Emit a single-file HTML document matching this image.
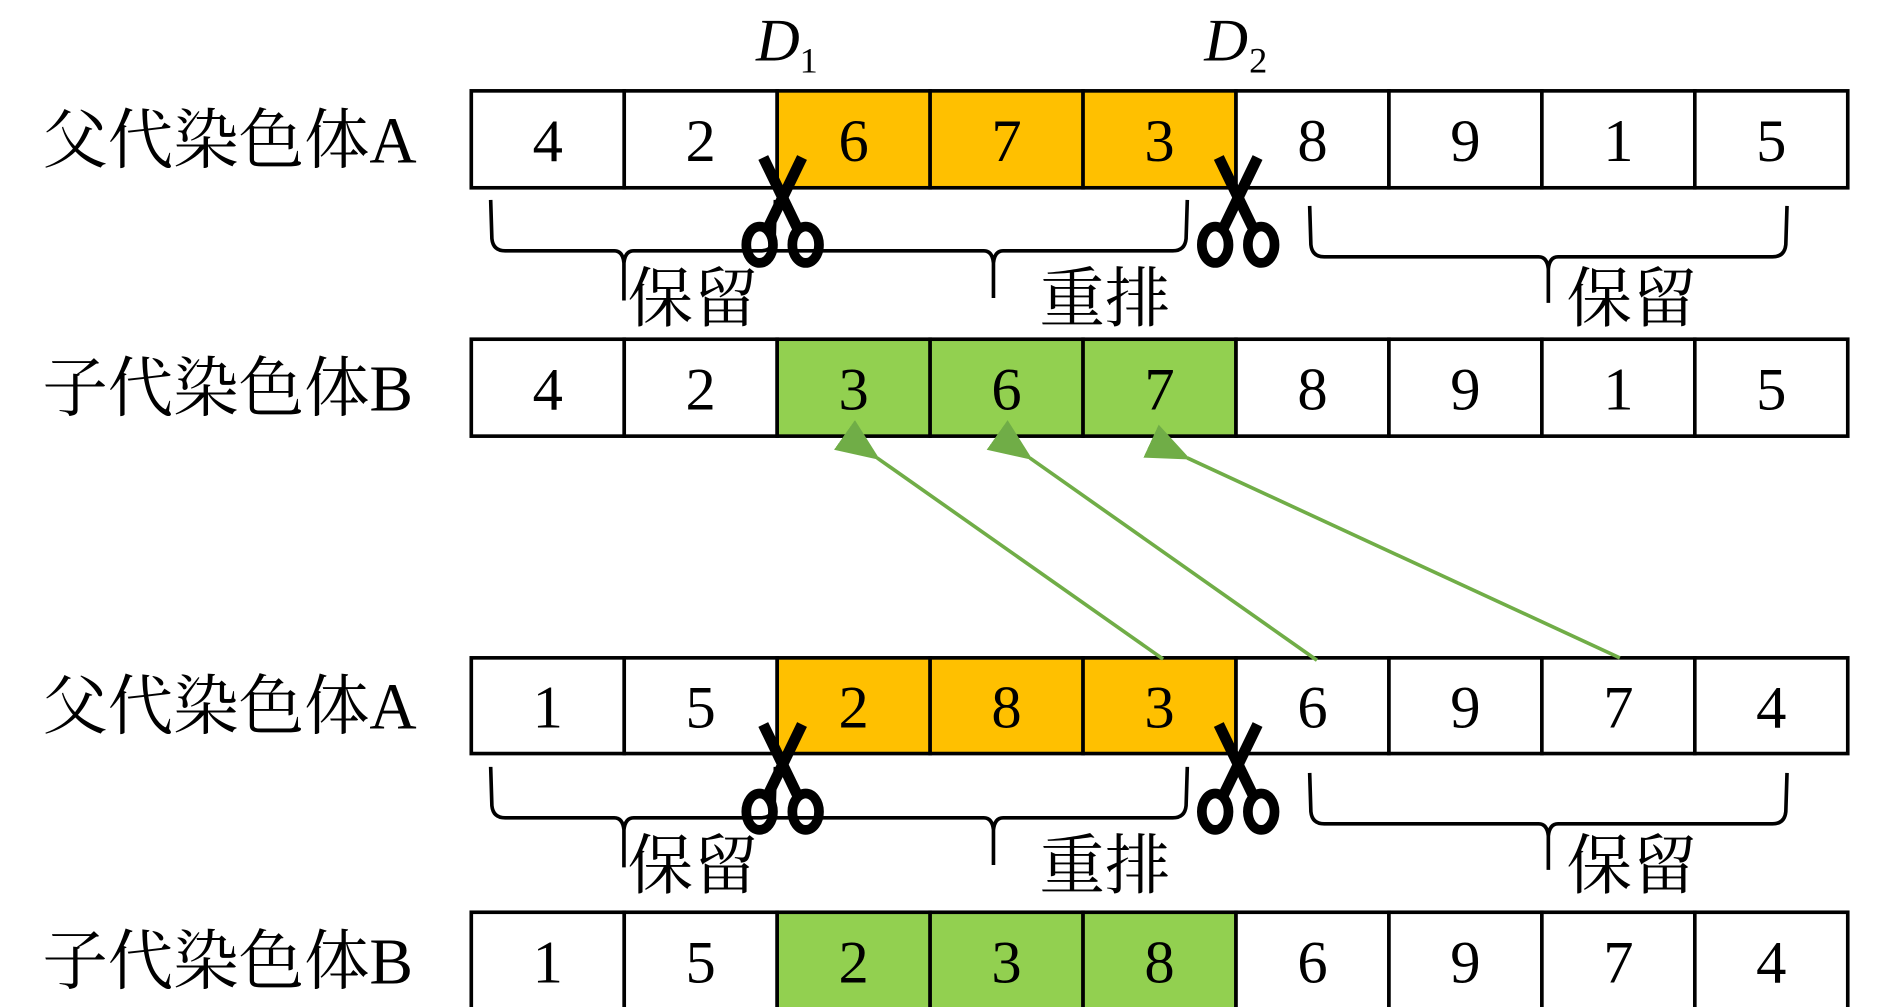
<!DOCTYPE html>
<html><head><meta charset="utf-8"><style>
html,body{margin:0;padding:0;background:#fff;overflow:hidden}
svg{display:block}
.lab{font-family:"Liberation Serif","Noto Serif CJK SC",serif;font-size:54px;fill:#000}
.num{font-family:"Liberation Serif",serif;font-size:50px;fill:#000;text-anchor:middle}
.br{fill:none;stroke:#000;stroke-width:3}
</style></head><body>
<svg width="1890" height="1007" viewBox="0 0 1560 831.2" preserveAspectRatio="none" xmlns="http://www.w3.org/2000/svg">
<defs>
<marker id="ah" markerWidth="12" markerHeight="10" refX="1" refY="5" orient="auto" markerUnits="strokeWidth">
<path d="M0,5 L12,0 L12,10 Z" fill="#70AD47"/>
</marker>
<g id="sc">
<line x1="-16" y1="-42" x2="13" y2="18" stroke="#000" stroke-width="9"/>
<line x1="16" y1="-42" x2="-13" y2="18" stroke="#000" stroke-width="9"/>
<ellipse cx="-19" cy="30" rx="11" ry="15" fill="none" stroke="#000" stroke-width="8"/>
<ellipse cx="19" cy="30" rx="11" ry="15" fill="none" stroke="#000" stroke-width="8"/>
</g>
</defs>
</svg>
<script>
var s=document.querySelector('svg'),NS='http://www.w3.org/2000/svg';
function el(t,a,txt){var e=document.createElementNS(NS,t);for(var k in a)e.setAttribute(k,a[k]);if(txt!==undefined)e.textContent=txt;s.appendChild(e);return e;}
var x0=389,w=126.9*1142/1148;
var rows=[
 {y:75,h:80,lab:'父代染色体A',v:[4,2,6,7,3,8,9,1,5],c:'#FFC000'},
 {y:280,h:80,lab:'子代染色体B',v:[4,2,3,6,7,8,9,1,5],c:'#92D050'},
 {y:543,h:79,lab:'父代染色体A',v:[1,5,2,8,3,6,9,7,4],c:'#FFC000'},
 {y:753,h:80,lab:'子代染色体B',v:[1,5,2,3,8,6,9,7,4],c:'#92D050'}];
rows.forEach(function(r){
 var cy=r.y+r.h/2;
 el('text',{x:35,y:cy+19,'class':'lab'},r.lab);
 for(var i=0;i<9;i++){
  el('rect',{x:x0+i*w,y:r.y,width:w,height:r.h,fill:(i>=2&&i<=4)?r.c:'#fff',stroke:'#000','stroke-width':3});
  el('text',{x:x0+i*w+w/2,y:cy+18,'class':'num'},String(r.v[i]));
 }
});
el('text',{x:624,y:50,'font-family':'Liberation Serif',"font-style":'italic','font-size':50},'D');
el('text',{x:660,y:60,'font-family':'Liberation Serif','font-size':30},'1');
el('text',{x:994,y:50,'font-family':'Liberation Serif',"font-style":'italic','font-size':50},'D');
el('text',{x:1031,y:60,'font-family':'Liberation Serif','font-size':30},'2');
function brace(xl,xr,tip,top,ly,bot){
 el('path',{'class':'br',d:'M'+xl+','+top+' L'+(xl+1)+','+(ly-10)+' Q'+(xl+2)+','+ly+' '+(xl+12)+','+ly+' L'+(tip-8)+','+ly+' Q'+(tip-1)+','+ly+' '+tip+','+(ly+10)+' L'+tip+','+bot+' M'+tip+','+(ly+10)+' Q'+(tip+1)+','+ly+' '+(tip+8)+','+ly+' L'+(xr-12)+','+ly+' Q'+(xr-2)+','+ly+' '+(xr-1)+','+(ly-10)+' L'+xr+','+top});
}
[0,468].forEach(function(d){
 brace(405,640,515,165+d,207+d,248+d);
 el('path',{'class':'br',d:'M640,'+(207+d)+' L812,'+(207+d)+' Q819,'+(207+d)+' 820,'+(217+d)+' L820,'+(246+d)+' M820,'+(217+d)+' Q821,'+(207+d)+' 828,'+(207+d)+' L968,'+(207+d)+' Q978,'+(207+d)+' 979,'+(197+d)+' L980,'+(165+d)});
 brace(1081,1475,1278,170+d,212+d,250+d);
 el('text',{x:518,y:265+d,'class':'lab','font-size':54},'保留');
 el('text',{x:858,y:265+d,'class':'lab','font-size':54},'重排');
 el('text',{x:1293,y:265+d,'class':'lab','font-size':54},'保留');
 el('use',{href:'#sc',x:646,y:172+d});
 el('use',{href:'#sc',x:1022,y:172+d});
});
[[960,544,724,378],[1087,545,850,378],[1337,543,980,378]].forEach(function(a){
 el('line',{x1:a[0],y1:a[1],x2:a[2],y2:a[3],stroke:'#70AD47','stroke-width':3,'marker-end':'url(#ah)'});
});
</script>
</body></html>
